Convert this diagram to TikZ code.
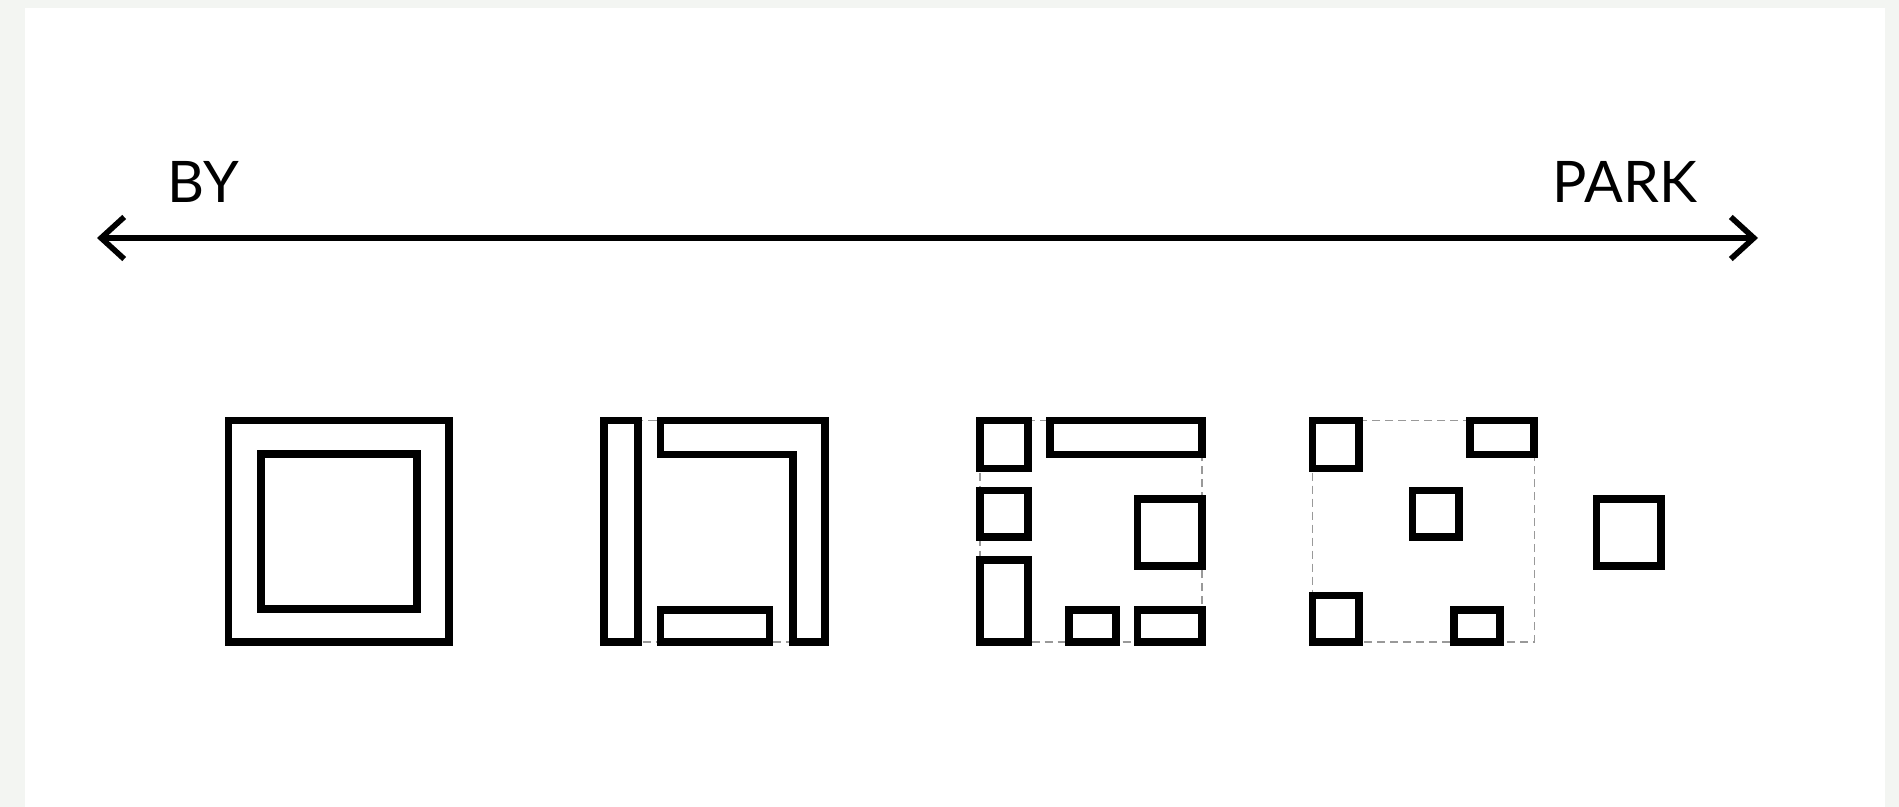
\documentclass[tikz,border=0pt]{standalone}
\usepackage{fontspec}
\setmainfont{Lato}
\usepackage{tikz}
\usetikzlibrary{arrows.meta,positioning}
\definecolor{pagegray}{HTML}{F3F5F2}
\definecolor{guidegray}{HTML}{999999}

\begin{document}
\begin{tikzpicture}[
  x=0.01cm, y=-0.01cm,
  font=\fontsize{16.3}{19}\selectfont,
  lbl/.style={anchor=base west,inner sep=0pt},
  axis/.style={line width=1.6pt,
               {Straight Barb[sharp,length=0.23cm,width=0.42cm]}-{Straight Barb[sharp,length=0.23cm,width=0.42cm]}},
  unit/.style={draw=black,line width=2pt},
  guide/.style={draw=guidegray,line width=0.35pt,dash pattern=on 0.08cm off 0.05cm}
]
\useasboundingbox[fill=pagegray] (0,0) rectangle (1899,807);
\fill[white] (25,8) rectangle (1885,807);

% scale from by-right to park
\node[lbl] (by)   at (167,203)  {BY};
\node[lbl] (park) at (1552,203) {PARK};
\coordinate (byend)   at (97,238);
\coordinate (parkend) at (1758,238);
\draw[axis] (byend) -- (parkend);

% enclosed
\draw[unit] (228.5,420.5) rectangle (449,642);
\draw[unit] (261,454) rectangle (417,609);

% split
\draw[guide] (604,420.5) rectangle (825,642);
\draw[unit] (604,420.5) rectangle (638,642);
\draw[unit] (660.5,420.5) -- (825,420.5) -- (825,642) -- (793,642)
  -- (793,454.5) -- (660.5,454.5) -- cycle;
\draw[unit] (660.5,610) rectangle (769.5,642);

% fragmented
\draw[guide] (980,420.5) rectangle (1202,642);
\draw[unit] (980,420.5) rectangle (1028,468.5);
\draw[unit] (1050,420.5) rectangle (1202,454.5);
\draw[unit] (980,490.5) rectangle (1028,537);
\draw[unit] (980,560) rectangle (1028,642);
\draw[unit] (1137.5,499) rectangle (1202,566);
\draw[unit] (1069,610) rectangle (1116,642);
\draw[unit] (1137.5,610) rectangle (1202,642);

% dispersed
\draw[guide] (1312.5,420.5) rectangle (1534.5,642);
\draw[unit] (1312.5,420.5) rectangle (1359,468.5);
\draw[unit] (1470,420.5) rectangle (1534,454.5);
\draw[unit] (1412.5,490.5) rectangle (1459,537);
\draw[unit] (1312.5,595.5) rectangle (1359,642);
\draw[unit] (1454,610) rectangle (1500,642);
\draw[unit] (1596.5,499) rectangle (1661,566);
\end{tikzpicture}
\end{document}
